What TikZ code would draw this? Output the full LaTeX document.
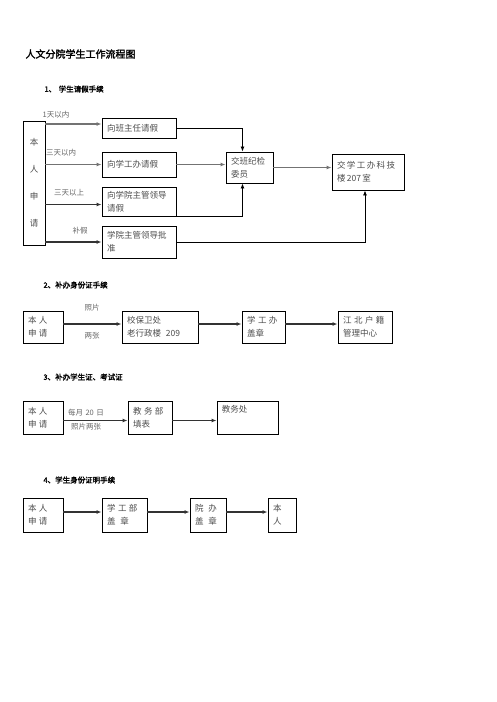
\documentclass[tikz,border=0pt]{standalone}
\usepackage{fontspec}
\setmainfont{Noto Sans CJK SC}[AutoFakeBold=2]
\usetikzlibrary{arrows.meta}
\newcommand{\kg}{\hspace{2.5pt}}

\begin{document}
\begin{tikzpicture}[x=1pt,y=-1pt,
    box/.style={draw, line width=0.9pt, inner xsep=5pt, inner ysep=0pt, align=left,
      font=\fontsize{8.5}{13}\selectfont, text=black!70},
    arr/.style={-{Latex[length=5pt,width=4pt]}, line width=1.1pt, black!80},
    thin arr/.style={arr, line width=0.8pt, black},
    gray arr/.style={arr, line width=1.4pt, black!55},
    lbl/.style={font=\fontsize{7.5}{9}\selectfont, text=black!60},
    head/.style={anchor=west, font=\bfseries\fontsize{7.5}{9}\selectfont}]
  \useasboundingbox (0,0) rectangle (496,702);
  % title
  \node[anchor=west, font=\bfseries\fontsize{10}{12}\selectfont] (title) at (22,54) {人文分院学生工作流程图};

  % 1
  \node[head] (h1) at (41,89) {1、\kg 学生请假手续};
  \node[box, align=center, text width=12, minimum height=124, font=\fontsize{8.5}{27}\selectfont] (me1) at (34,183) {本\\人\\申\\请};
  \node[box, text width=64, minimum height=20] (b1) at (139,128) {向班主任请假};
  \node[box, text width=64, minimum height=25] (b2) at (139,164.5) {向学工办请假};
  \node[box, text width=64, minimum height=29] (b3) at (139,201.5) {向学院主管领导\\请假};
  \node[box, text width=64, minimum height=32] (b4) at (139,242) {学院主管领导批\\准};
  \node[box, text width=37, minimum height=31] (jb) at (249.5,167.5) {交班纪检\\委员};
  \node[box, text width=62, minimum height=36] (xg) at (368,172) {交\,学\,工\,办\,科\,技\\楼\,207\,室};
  \node[lbl] (l1) at (56,115) {1天以内};
  \node[lbl] (l2) at (61,153) {三天以内};
  \node[lbl] (l3) at (69,193) {三天以上};
  \node[lbl] (l4) at (80,231) {补假};
  \draw[gray arr] ([yshift=4pt]b1.west -| me1.east) -- ([yshift=4pt]b1.west);
  \draw[gray arr] (b2.west -| me1.east) -- (b2.west);
  \draw[arr] ([yshift=-3pt]b3.west -| me1.east) -- ([yshift=-3pt]b3.west);
  \draw[arr] (b4.west -| me1.east) -- (b4.west);
  \draw[thin arr] (b1.east) -| ([xshift=-7pt]jb.north);
  \draw[gray arr] (b2.east) -- (b2.east -| jb.west);
  \draw[thin arr] (b3.south east) -| ([xshift=-7pt]jb.south);
  \draw[thin arr] (b4.east) -| ([xshift=-3pt]xg.south);
  \draw[gray arr] (jb.east) -- (jb.east -| xg.west);

  % 2
  \node[head] (h2) at (40,285) {2、补办身份证手续};
  \node[box, text width=30, minimum height=32] (c1) at (43,327) {本\kg 人\\申\kg 请};
  \node[box, text width=66, minimum height=32] (c2) at (160,327) {校保卫处\\老行政楼\kg\kg 209};
  \node[box, text width=33, minimum height=32] (c3) at (263.5,327) {学\kg 工\kg 办\\盖章};
  \node[box, text width=44, minimum height=32] (c4) at (365,327) {江\kg 北\kg 户\kg 籍\\管理中心};
  \node[lbl] (l5) at (92,308) {照片};
  \node[lbl] (l6) at (92,336) {两张};
  \draw[arr] ([yshift=3pt]c1.east) -- ([yshift=3pt]c2.west);
  \draw[arr] ([yshift=3pt]c2.east) -- ([yshift=3pt]c3.west);
  \draw[arr] ([yshift=3pt]c3.east) -- ([yshift=3pt]c4.west);

  % 3
  \node[head] (h3) at (40,377) {3、补办学生证、考试证};
  \node[box, text width=30, minimum height=33] (d1) at (43,417.5) {本\kg 人\\申\kg 请};
  \node[box, text width=34, minimum height=33] (d2) at (150,417.5) {教\kg 务\kg 部\\填表};
  \node[box, text width=51, minimum height=33,
    label={[anchor=north west, inner sep=5pt, font=\fontsize{8.5}{13}\selectfont, text=black!70]north west:教务处}] (d3) at (247.5,417.5) {};
  \node[lbl] (l7) at (86,413) {每月\kg 20\kg 日};
  \node[lbl] (l8) at (86,427) {照片两张};
  \draw[arr] ([yshift=-3pt]d1.east) -- ([yshift=-3pt]d2.west);
  \draw[arr] ([yshift=-3pt]d2.east) -- ([yshift=-3pt]d3.west);

  % 4
  \node[head] (h4) at (40,480) {4、学生身份证明手续};
  \node[box, text width=30, minimum height=34] (e1) at (43,515) {本\kg 人\\申\kg 请};
  \node[box, text width=35, minimum height=34] (e2) at (124.5,515) {学\kg 工\kg 部\\盖\kg\kg 章};
  \node[box, text width=26, minimum height=34] (e3) at (208,515) {院\kg\kg 办\\盖\kg\kg 章};
  \node[box, text width=18, minimum height=34] (e4) at (282,515) {本\\人};
  \draw[arr] ([yshift=3pt]e1.east) -- ([yshift=3pt]e2.west);
  \draw[arr] ([yshift=3pt]e2.east) -- ([yshift=3pt]e3.west);
  \draw[arr] ([yshift=3pt]e3.east) -- ([yshift=3pt]e4.west);
\end{tikzpicture}
\end{document}
